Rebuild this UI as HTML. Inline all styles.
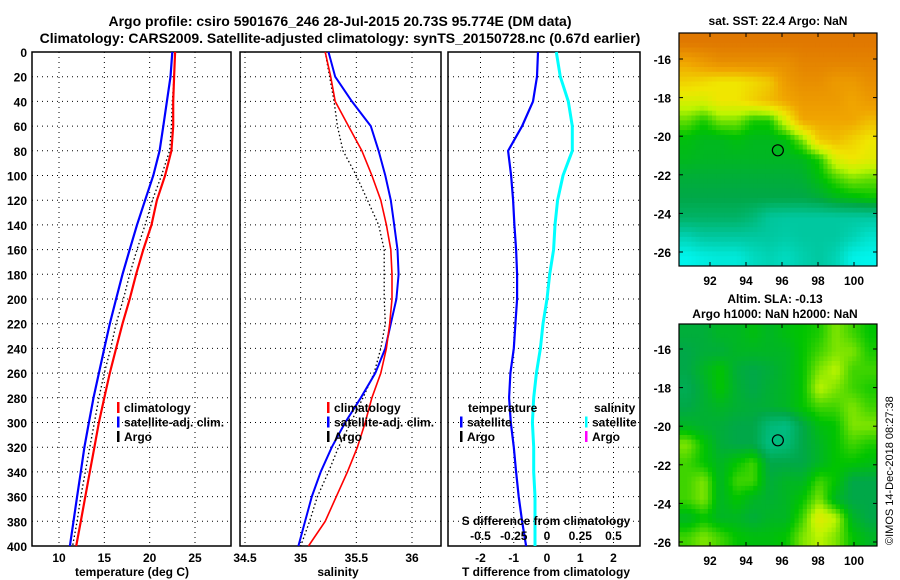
<!DOCTYPE html>
<html><head><meta charset="utf-8"><style>
body{margin:0;background:#fff;}
svg{display:block;font-family:"Liberation Sans",sans-serif;font-weight:bold;}
</style></head><body>
<svg id="c" width="900" height="580" viewBox="0 0 900 580">
<text x="340" y="26" text-anchor="middle" font-size="14">Argo profile: csiro 5901676_246 28-Jul-2015 20.73S 95.774E (DM data)</text>
<text x="340" y="43" text-anchor="middle" font-size="14">Climatology: CARS2009. Satellite-adjusted climatology: synTS_20150728.nc (0.67d earlier)</text>
<text x="778" y="25" text-anchor="middle" font-size="12">sat. SST: 22.4 Argo: NaN</text>
<text x="775" y="303" text-anchor="middle" font-size="12">Altim. SLA: -0.13</text>
<text x="775" y="318" text-anchor="middle" font-size="12">Argo h1000: NaN h2000: NaN</text>
<text transform="translate(893,545) rotate(-90)" font-size="11" font-weight="normal">©IMOS 14-Dec-2018 08:27:38</text>
</svg>
<script>
const depths=[0,20,40,60,80,100,120,140,160,180,200,220,240,260,280,300,320,340,360,380,400];
const tempClim=[22.8,22.7,22.6,22.6,22.4,21.7,20.8,20.2,19.3,18.5,17.8,17.0,16.3,15.6,15.0,14.4,13.9,13.4,12.9,12.4,11.9];
const tempSat=[22.5,22.3,21.9,21.5,21.1,20.4,19.5,18.6,17.8,17.0,16.3,15.6,15.0,14.4,13.8,13.3,12.8,12.4,12.0,11.6,11.2];
const tempArgo=[22.8,22.7,22.5,22.4,22.2,21.3,20.3,19.5,18.6,17.8,17.1,16.3,15.7,15.0,14.4,13.9,13.4,12.9,12.4,12.0,11.5];
const salClim=[35.22,35.27,35.31,35.43,35.55,35.64,35.72,35.77,35.81,35.82,35.82,35.80,35.77,35.72,35.64,35.58,35.51,35.42,35.32,35.22,35.07];
const salSat=[35.25,35.31,35.46,35.63,35.70,35.76,35.81,35.84,35.87,35.88,35.86,35.81,35.76,35.67,35.54,35.40,35.28,35.18,35.10,35.04,34.98];
const salArgo=[35.22,35.26,35.30,35.33,35.38,35.50,35.60,35.70,35.75,35.75,35.75,35.76,35.72,35.66,35.56,35.45,35.34,35.25,35.15,35.08,35.00];
const tDiffSat=[-0.27,-0.3,-0.42,-0.75,-1.17,-1.08,-1.02,-0.98,-0.93,-0.9,-0.9,-0.95,-1.0,-1.1,-1.14,-1.09,-1.0,-0.93,-0.85,-0.75,-0.63];
const sDiffSat=[0.07,0.1,0.16,0.19,0.19,0.12,0.08,0.06,0.05,0.02,0,-0.03,-0.05,-0.08,-0.1,-0.11,-0.1,-0.1,-0.09,-0.09,-0.09];
const depthTicks=[0,20,40,60,80,100,120,140,160,180,200,220,240,260,280,300,320,340,360,380,400];
const tempTicks=[10,15,20,25];
const salTicks=[34.5,35,35.5,36];
const tdTicks=[-2,-1,0,1,2];
const sdTicks=[-0.5,-0.25,0,0.25,0.5];
const sstGrid=[
[1,1,1,1,1,1,1,1,1,1,1,1],
[0.8,0.85,0.9,0.9,0.9,0.9,0.9,0.95,0.95,0.95,0.95,0.95],
[0.7,0.68,0.65,0.65,0.68,0.72,0.85,0.9,0.9,0.85,0.85,0.9],
[0.6,0.6,0.65,0.65,0.7,0.75,0.8,0.85,0.85,0.85,0.8,0.85],
[0.48,0.42,0.5,0.5,0.42,0.42,0.6,0.8,0.8,0.8,0.8,0.75],
[0.38,0.36,0.36,0.38,0.36,0.36,0.38,0.5,0.72,0.75,0.7,0.65],
[0.36,0.35,0.35,0.35,0.35,0.35,0.35,0.36,0.42,0.6,0.65,0.62],
[0.32,0.32,0.32,0.32,0.32,0.32,0.32,0.33,0.38,0.45,0.5,0.48],
[0.3,0.3,0.3,0.3,0.3,0.3,0.3,0.3,0.32,0.36,0.38,0.4],
[0.25,0.25,0.25,0.25,0.22,0.16,0.15,0.15,0.15,0.15,0.15,0.15],
[0.12,0.15,0.15,0.15,0.15,0.15,0.14,0.15,0.15,0.15,0.12,0.08],
[0.03,0.05,0.06,0.06,0.1,0.12,0.1,0.13,0.15,0.12,0.04,0.03]];
const slaGrid=[
[0.32,0.32,0.35,0.35,0.38,0.35,0.38,0.4,0.42,0.5,0.45,0.4],
[0.3,0.32,0.32,0.35,0.35,0.35,0.35,0.4,0.45,0.5,0.5,0.42],
[0.3,0.35,0.4,0.32,0.3,0.32,0.35,0.4,0.5,0.55,0.45,0.45],
[0.28,0.33,0.4,0.33,0.3,0.33,0.35,0.4,0.55,0.5,0.45,0.42],
[0.3,0.33,0.35,0.33,0.32,0.33,0.35,0.4,0.45,0.45,0.5,0.45],
[0.35,0.33,0.32,0.3,0.3,0.22,0.2,0.3,0.38,0.4,0.5,0.5],
[0.5,0.4,0.32,0.3,0.3,0.2,0.22,0.3,0.35,0.4,0.45,0.42],
[0.45,0.4,0.35,0.4,0.45,0.3,0.3,0.3,0.35,0.4,0.4,0.38],
[0.45,0.5,0.35,0.45,0.45,0.32,0.35,0.35,0.45,0.4,0.3,0.3],
[0.45,0.5,0.35,0.4,0.35,0.33,0.35,0.4,0.5,0.35,0.3,0.3],
[0.35,0.4,0.35,0.35,0.32,0.35,0.35,0.45,0.62,0.55,0.35,0.3],
[0.45,0.5,0.45,0.4,0.38,0.38,0.4,0.5,0.55,0.5,0.4,0.35]];
const lonTicks=[92,94,96,98,100];
const latTicks=[-16,-18,-20,-22,-24,-26];
const argoPos=[95.77,-20.73];

const NS='http://www.w3.org/2000/svg';
const svg=document.getElementById('c');
function mk(tag,at,parent){const e=document.createElementNS(NS,tag);for(const k in at)e.setAttribute(k,at[k]);(parent||svg).appendChild(e);return e;}
function txt(x,y,s,size,anchor,parent){const t=mk('text',{x:x,y:y,'font-size':size,'text-anchor':anchor||'middle'},parent);t.textContent=s;return t;}
const Y0=52,Y1=546;
function yD(d){return Y0+(d/400)*(Y1-Y0);}
function lin(d0,d1,r0,r1){return v=>r0+(v-d0)/(d1-d0)*(r1-r0);}

function panel(name,x0,x1,xs,ticks,fmt,showY){
  const g=mk('g',{});
  
  
  ticks.forEach(v=>{const x=xs(v);
    const l=mk('line',{x1:x,y1:Y0,x2:x,y2:Y1,stroke:'#000','stroke-width':1,'stroke-dasharray':'1,4'},g);
    
    
  });
  depthTicks.forEach(d=>{if(d===0||d===400)return;const y=yD(d);
    const l=mk('line',{x1:x0,y1:y,x2:x1,y2:y,stroke:'#000','stroke-width':1,'stroke-dasharray':'1,4'},g);
    
    
  });
  const r=mk('rect',{x:x0,y:Y0,width:x1-x0,height:Y1-Y0,fill:'none',stroke:'#000','stroke-width':1.5},g);
  
  
  if(fmt){ticks.forEach(v=>{const t=txt(xs(v),562,fmt(v),12,'middle',g);
    
    });}
  if(showY){depthTicks.forEach(d=>{const t=txt(27,yD(d)+5,String(d),12,'end',g);
    
    });}
  return g;
}
function series(g,name,xs,vals,color,w,dash){
  const pts=vals.map((v,i)=>xs(v).toFixed(1)+','+yD(depths[i]).toFixed(1)).join(' ');
  const p=mk('polyline',{points:pts,fill:'none',stroke:color,'stroke-width':w},g);
  if(dash)p.setAttribute('stroke-dasharray',dash);
  
  
}
function legend(g,x,y,entries){
  entries.forEach((e,i)=>{const yy=y+i*14.5;
    const b=mk('rect',{x:x,y:yy-10,width:2.5,height:11,fill:e[1]},g);
    
    
    const t=txt(x+7,yy,e[0],12,'start',g);
    
    
  });
}

const xT=lin(10,25,59,195);
const g1=panel('temperature-panel',32,231,xT,tempTicks,v=>String(v),true);
series(g1,'temp-argo',xT,tempArgo,'#000',1.3,'1.5,2.5');
series(g1,'temp-satellite-adj',xT,tempSat,'#0000ff',2.2);
series(g1,'temp-climatology',xT,tempClim,'#ff0000',2.2);
legend(g1,117,412,[['climatology','#ff0000'],['satellite-adj. clim.','#0000ff'],['Argo','#000']]);
txt(132,576,'temperature (deg C)',12,'middle',g1);

const xS=lin(34.5,36,245,412);
const g2=panel('salinity-panel',240,441,xS,salTicks,v=>String(v),false);
series(g2,'sal-argo',xS,salArgo,'#000',1.3,'1.5,2.5');
series(g2,'sal-satellite-adj',xS,salSat,'#0000ff',2);
series(g2,'sal-climatology',xS,salClim,'#ff0000',1.6);
legend(g2,327,412,[['climatology','#ff0000'],['satellite-adj. clim.','#0000ff'],['Argo','#000']]);
txt(338,576,'salinity',12,'middle',g2);

const xTD=lin(-2,2,480.5,613.5);
const xSD=lin(-0.5,0.5,480.5,613.5);
const g3=panel('difference-panel',448,640,xTD,tdTicks,v=>String(v),false);
series(g3,'s-diff-satellite',xSD,sDiffSat,'#00ffff',3);
series(g3,'t-diff-satellite',xTD,tDiffSat,'#0000ff',2.2);
sdTicks.forEach(v=>{const t=txt(xSD(v),540,String(v),12,'middle',g3);
  
  });
txt(546,525,'S difference from climatology',12,'middle',g3);
txt(546,576,'T difference from climatology',12,'middle',g3);
txt(468,412,'temperature',12,'start',g3);
txt(594,412,'salinity',12,'start',g3);
legend(g3,460,426.5,[['satellite','#0000ff'],['Argo','#000']]);
legend(g3,585,426.5,[['satellite','#00ffff'],['Argo','#ff00ff']]);

const cstops=[[0,[0,255,255]],[0.15,[0,200,160]],[0.3,[0,168,72]],[0.4,[0,196,0]],[0.55,[190,245,0]],[0.65,[240,230,0]],[0.8,[240,165,0]],[1,[224,120,0]]];
function cmap(v){for(let i=1;i<cstops.length;i++){if(v<=cstops[i][0]){const a=cstops[i-1],b=cstops[i];const f=(v-a[0])/(b[0]-a[0]);return 'rgb('+a[1].map((c,k)=>Math.round(c+(b[1][k]-c)*f)).join(',')+')';}}return 'rgb(224,120,0)';}
function sample(grid,fr,fc){
  const R=grid.length,C=grid[0].length;
  fr=Math.max(0,Math.min(R-1,fr));fc=Math.max(0,Math.min(C-1,fc));
  const r0=Math.floor(fr),c0=Math.floor(fc),r1=Math.min(R-1,r0+1),c1=Math.min(C-1,c0+1);
  const a=fr-r0,b=fc-c0;
  return grid[r0][c0]*(1-a)*(1-b)+grid[r0][c1]*(1-a)*b+grid[r1][c0]*a*(1-b)+grid[r1][c1]*a*b;
}
function mapPanel(name,grid,x0,x1,y0,y1,lonS,latS){
  const g=mk('g',{});
  
  
  const S=4,rows=grid.length*S,cols=grid[0].length*S,cw=(x1-x0)/cols,ch=(y1-y0)/rows;
  for(let r=0;r<rows;r++)for(let c=0;c<cols;c++){
    const v=sample(grid,(r+0.5)/S-0.5,(c+0.5)/S-0.5);
    const cell=mk('rect',{x:(x0+c*cw).toFixed(2),y:(y0+r*ch).toFixed(2),width:(cw+0.5).toFixed(2),height:(ch+0.5).toFixed(2),fill:cmap(v)},g);
    
    
  }
  const fr=mk('rect',{x:x0,y:y0,width:x1-x0,height:y1-y0,fill:'none',stroke:'#000','stroke-width':1.2},g);
  
  
  lonTicks.forEach(v=>{const x=lonS(v);
    mk('line',{x1:x,y1:y0,x2:x,y2:y0+4,stroke:'#000'},g);
    mk('line',{x1:x,y1:y1,x2:x,y2:y1-4,stroke:'#000'},g);
    const t=txt(x,y1+19,String(v),12,'middle',g);
    
    });
  latTicks.forEach(v=>{const y=latS(v);
    mk('line',{x1:x0,y1:y,x2:x0+4,y2:y,stroke:'#000'},g);
    mk('line',{x1:x1,y1:y,x2:x1-4,y2:y,stroke:'#000'},g);
    const t=txt(x0-8,y+5,String(v),12,'end',g);
    
    });
  const m=mk('circle',{cx:lonS(argoPos[0]),cy:latS(argoPos[1]),r:5.5,fill:'none',stroke:'#000','stroke-width':1.2},g);
  
  
  return g;
}
const lonS=lin(92,100,710,854);
mapPanel('sst-map',sstGrid,679,877,33,266,lonS,lin(-16,-26,59,252));
mapPanel('sla-map',slaGrid,679,877,324,546,lonS,lin(-16,-26,349,542));
</script>
</body></html>
